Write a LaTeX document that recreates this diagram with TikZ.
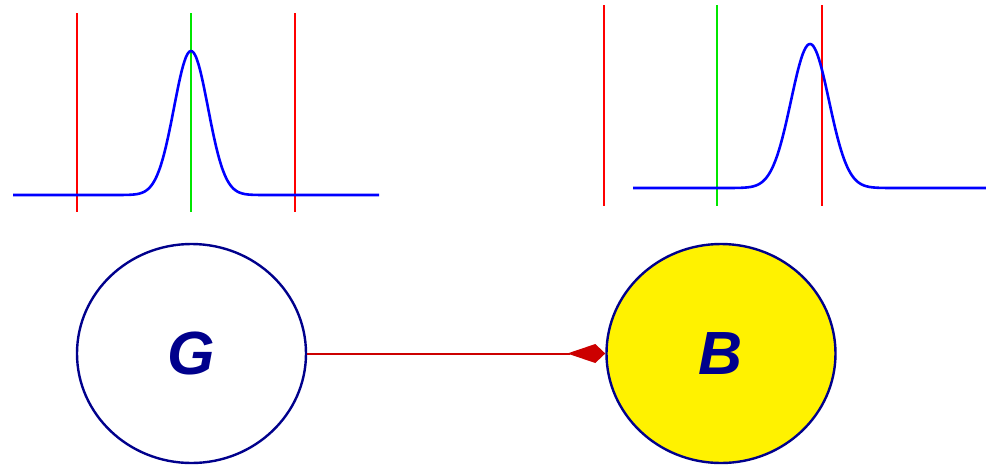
\documentclass[tikz,border=0pt]{standalone}
\usepackage{fontspec}
\setmainfont{Liberation Sans}
\usetikzlibrary{arrows.meta,shapes.geometric}
\definecolor{navyc}{RGB}{0,0,140}
\definecolor{arrred}{RGB}{204,0,0}
\definecolor{gline}{RGB}{0,230,0}
\begin{document}
\begin{tikzpicture}[x=1pt,y=-1pt,
  rline/.style={draw=red,line width=2pt},
  gvline/.style={draw=gline,line width=2pt},
  curve/.style={draw=blue,line width=2.6pt,line join=round},
  bubble/.style={ellipse,draw=navyc,line width=2.4pt,minimum width=229pt,minimum height=219pt,inner sep=0pt,
     font=\fontsize{61}{61}\selectfont\bfseries\itshape,text=navyc},
  link/.style={draw=arrred,line width=2pt,-{Kite[length=38pt,width=19pt,inset=28pt]}}]
\useasboundingbox (0,0) rectangle (986,467);
% left plot
\draw[rline] (77,13) -- (77,212);
\draw[rline] (295,13) -- (295,212);
\draw[gvline] (191,13) -- (191,212);
\draw[curve] plot[domain=13:379,samples=240,smooth] (\x,{195-144*exp(-((\x-191)/24.04)*((\x-191)/24.04))});
% right plot
\draw[rline] (604,5) -- (604,206);
\draw[rline] (822,5) -- (822,206);
\draw[gvline] (717,5) -- (717,206);
\draw[curve] plot[domain=633:986,samples=240,smooth] (\x,{188-144*exp(-((\x-810)/26.87)*((\x-810)/26.87))});
% nodes
\node[bubble,fill=white] (G) at (191.5,353.5) {G};
\node[bubble,fill=yellow] (B) at (721,353.5) {B};
\draw[link] (G) -- (B);
\end{tikzpicture}
\end{document}
